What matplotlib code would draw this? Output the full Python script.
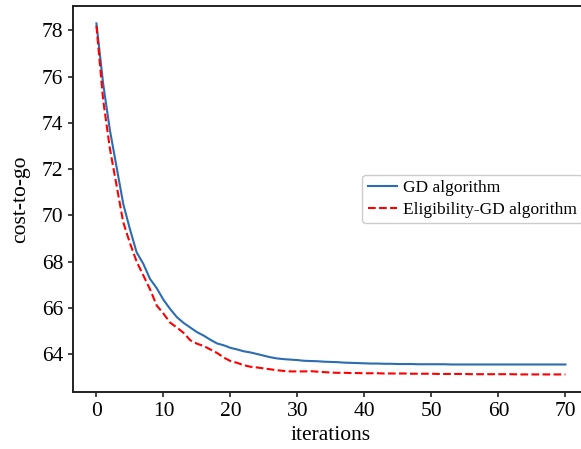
import matplotlib.pyplot as plt
import numpy as np

plt.rcParams['font.family'] = ['Liberation Serif', 'DejaVu Serif']

iterations = np.arange(0, 71)
gd_cost = [78.3, 75.7, 73.7, 72.1, 70.5, 69.4, 68.4, 67.9, 67.25, 66.85,
           66.35, 65.95, 65.6, 65.35, 65.15, 64.95, 64.8, 64.62, 64.46, 64.38,
           64.27, 64.2, 64.12, 64.07, 64.0, 63.93, 63.86, 63.81, 63.78, 63.76,
           63.74, 63.71, 63.7, 63.69, 63.67, 63.66, 63.65, 63.63, 63.62, 63.61,
           63.6, 63.59, 63.59, 63.58, 63.58, 63.57, 63.57, 63.57, 63.56, 63.56,
           63.56, 63.56, 63.56, 63.55, 63.55, 63.55, 63.55, 63.55, 63.55, 63.55,
           63.55, 63.55, 63.55, 63.55, 63.55, 63.55, 63.55, 63.55, 63.55, 63.55,
           63.55]
egd_cost = [78.2, 75.0, 72.9, 71.3, 69.7, 68.8, 68.0, 67.4, 66.8, 66.1,
            65.75, 65.36, 65.15, 64.92, 64.6, 64.45, 64.35, 64.2, 64.05, 63.85,
            63.7, 63.62, 63.52, 63.45, 63.42, 63.38, 63.34, 63.3, 63.27, 63.25,
            63.25, 63.25, 63.26, 63.24, 63.22, 63.2, 63.19, 63.19, 63.18, 63.18,
            63.17, 63.17, 63.17, 63.16, 63.16, 63.16, 63.16, 63.15, 63.15, 63.15,
            63.15, 63.14, 63.14, 63.14, 63.14, 63.14, 63.13, 63.13, 63.13, 63.13,
            63.13, 63.13, 63.13, 63.12, 63.12, 63.12, 63.12, 63.12, 63.12, 63.12,
            63.12]

fig = plt.figure(figsize=(5.81, 4.49), dpi=100)
# axes runs past the right edge, like the cropped original
ax = fig.add_axes([0.1256, 0.127, 0.888, 0.86])

ax.plot(iterations, gd_cost, color='#2b6cb3', lw=1.5, label='GD algorithm')
ax.plot(iterations, egd_cost, color='red', lw=1.5, ls='--',
        label='Eligibility-GD algorithm')

ax.set_xticks(range(0, 71, 10))
ax.set_yticks(range(64, 79, 2))
ax.tick_params(labelsize=15.5, width=1.2, length=3.5, color='#222222')
for s in ax.spines.values():
    s.set_linewidth(1.4)
    s.set_color('#222222')

ax.set_xlabel('iterations', fontsize=15.5, labelpad=4)
ax.set_ylabel('cost-to-go', fontsize=15.5, labelpad=8)

ax.legend(loc='center right', bbox_to_anchor=(1.004, 0.5), fontsize=12.5,
          handlelength=1.7, borderpad=0.3, labelspacing=0.3,
          handletextpad=0.35, borderaxespad=0.5, framealpha=1, fancybox=True)

fig.savefig('out.png', dpi=100)
